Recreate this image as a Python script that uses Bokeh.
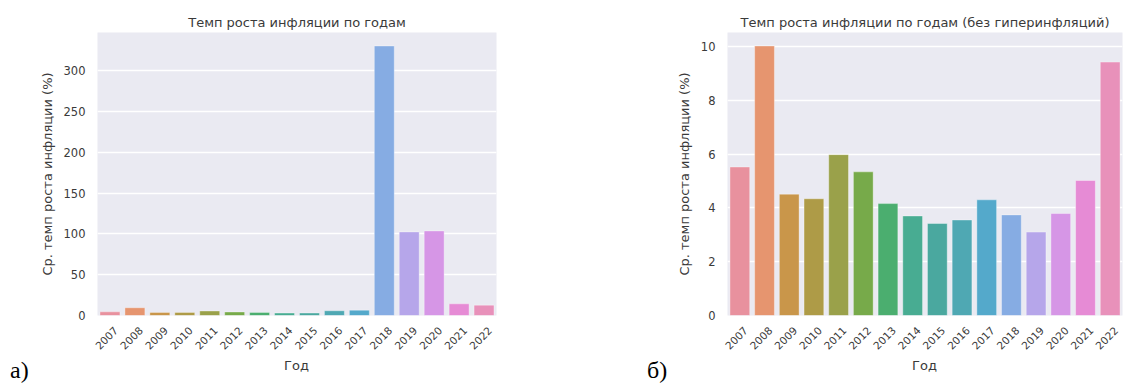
import math
from bokeh.plotting import figure
from bokeh.layouts import row, column
from bokeh.models import ColumnDataSource, Range1d, FixedTicker, Div
from bokeh.embed import file_html
from bokeh.resources import INLINE

years = ["2007", "2008", "2009", "2010", "2011", "2012", "2013", "2014",
         "2015", "2016", "2017", "2018", "2019", "2020", "2021", "2022"]
rate_all = [4.5, 9.5, 3.8, 3.8, 5.5, 4.3, 3.8, 3.0, 3.0, 5.8, 6.5,
            330.5, 102.5, 103.7, 14.3, 12.7]
rate_no_hyper = [5.52, 10.02, 4.51, 4.34, 5.98, 5.34, 4.16, 3.70, 3.42,
                 3.55, 4.30, 3.74, 3.10, 3.79, 5.02, 9.42]
bar_colors = ["#E8919E", "#E6956F", "#C9964A", "#AE9B47", "#9AA14A", "#77AA4A",
              "#4BAE6F", "#48AC92", "#4AA89F", "#4FA8B3", "#54A9CB", "#86ACE3",
              "#B6A6EA", "#D696E6", "#E68BD5", "#E891BA"]
ticks_left = [0, 50, 100, 150, 200, 250, 300]
ticks_right = [0, 2, 4, 6, 8, 10]
x_title = "Год"
y_title = "Ср. темп роста инфляции (%)"

TEXT = "#3a3a3a"
FONT = "DejaVu Sans"
FIG_H = 356
STRIP_H = 29
LABEL_SHIFT = 0.24  # rotated year labels sit slightly right of the bar centre


def make_panel(title, values, ticks, width, borders):
    n = len(years)
    pos = list(range(n))
    src = ColumnDataSource(dict(pos=pos, year=years, rate=values, color=bar_colors))
    p = figure(x_range=Range1d(-0.5, n - 0.5), y_range=Range1d(0, max(values) * 1.05),
               width=width, height=FIG_H, output_backend="svg",
               toolbar_location=None, title=title,
               min_border_left=borders[0], min_border_right=borders[1],
               min_border_top=borders[2], min_border_bottom=borders[3])
    p.vbar(x="pos", top="rate", width=0.8, source=src, fill_color="color",
           line_color="white", line_alpha=0.35, line_width=1)
    p.background_fill_color = "#EAEAF2"
    p.border_fill_color = "white"
    p.outline_line_color = None
    p.xgrid.grid_line_color = None
    p.ygrid.grid_line_color = "white"
    p.ygrid.grid_line_width = 1.3

    tick_pos = [round(i + LABEL_SHIFT, 2) for i in pos]
    p.xaxis.ticker = FixedTicker(ticks=tick_pos)
    p.xaxis.major_label_overrides = {t: y for t, y in zip(tick_pos, years)}
    p.yaxis.ticker = FixedTicker(ticks=ticks)
    for ax in (p.xaxis[0], p.yaxis[0]):
        ax.axis_line_color = None
        ax.major_tick_line_color = None
        ax.minor_tick_line_color = None
        ax.major_tick_out = 0
        ax.major_tick_in = 0
        ax.minor_tick_out = 0
        ax.minor_tick_in = 0
        ax.major_label_text_font = FONT
        ax.major_label_text_color = TEXT
        ax.axis_label_text_font = FONT
        ax.axis_label_text_font_size = "13px"
        ax.axis_label_text_font_style = "normal"
        ax.axis_label_text_color = TEXT
    p.yaxis.major_label_text_font_size = "11.5px"
    p.xaxis.major_label_text_font_size = "10.5px"
    p.xaxis.major_label_orientation = math.pi / 4
    p.xaxis.major_label_standoff = 13
    p.yaxis.axis_label = y_title
    p.yaxis.major_label_standoff = 12
    p.yaxis.axis_label_standoff = 6
    p.title.align = "center"
    p.title.text_font = FONT
    p.title.text_font_size = "13px"
    p.title.text_font_style = "normal"
    p.title.text_color = TEXT
    p.title.standoff = 5
    return p


def make_strip(width, panel_label, label_x, frame_left, frame_width):
    html = (
        f'<div style="position:relative;width:{width}px;height:{STRIP_H}px;">'
        f'<span style="position:absolute;left:{label_x}px;top:2px;'
        f'font-family:\'Liberation Serif\';font-size:24px;line-height:24px;color:black;">'
        f'{panel_label}</span>'
        f'<div style="position:absolute;left:{frame_left}px;width:{frame_width}px;top:2.5px;'
        f'text-align:center;font-family:\'DejaVu Sans\';font-size:13px;line-height:13px;'
        f'color:{TEXT};">{x_title}</div>'
        f'</div>'
    )
    return Div(text=html, width=width, height=STRIP_H, margin=0)


p1 = make_panel("Темп роста инфляции по годам", rate_all, ticks_left,
                600, (97, 104, 30, 41))
p2 = make_panel("Темп роста инфляции по годам (без гиперинфляций)", rate_no_hyper,
                ticks_right, 534, (127, 12, 32, 39))
s1 = make_strip(600, "а)", 10, 97, 399)
s2 = make_strip(534, "б)", 47, 127, 395)

layout = column(row(p1, p2), row(s1, s2))
open("out.html", "w").write(file_html(layout, INLINE))
